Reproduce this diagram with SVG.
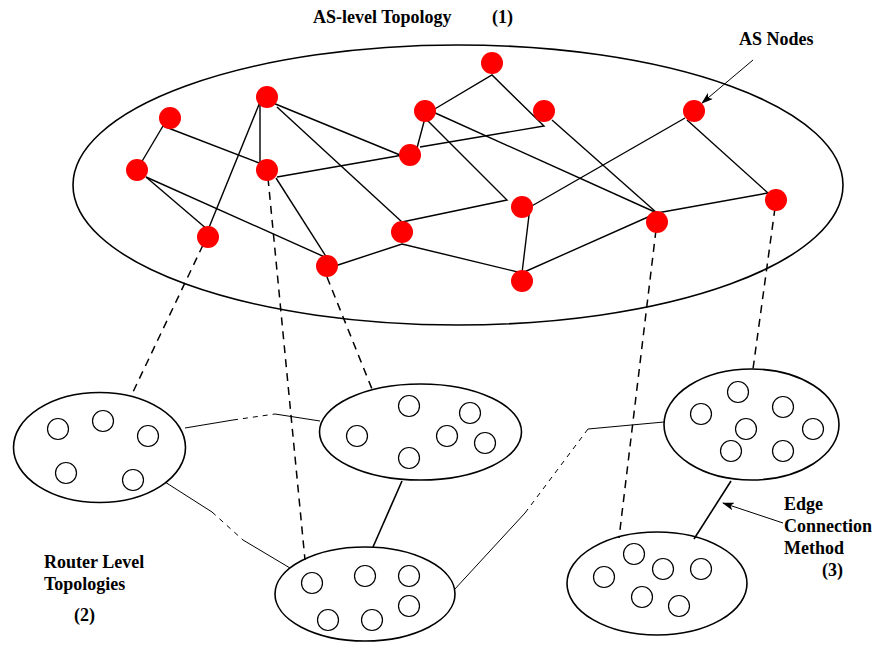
<svg xmlns="http://www.w3.org/2000/svg" width="874" height="647" viewBox="0 0 874 647">
<style>
.bg{fill:#fff}
.ell{fill:none;stroke:#000;stroke-width:1.6}
.as{fill:#f00;stroke:none}
.rt{fill:none;stroke:#000;stroke-width:1.2}
.e{fill:none;stroke:#000;stroke-width:1.4}
.map{fill:none;stroke:#000;stroke-width:1.5;stroke-dasharray:8 6}
.thin{fill:none;stroke:#000;stroke-width:1}
.td{fill:none;stroke:#000;stroke-width:1;stroke-dasharray:5 5}
.thick{fill:none;stroke:#000;stroke-width:1.6}
.lbl{font-family:"Liberation Serif","Times New Roman",serif;font-weight:bold;font-size:18px;fill:#000}
</style>
<defs>
<marker id="ah" markerWidth="12" markerHeight="8" refX="11" refY="4" orient="auto" markerUnits="userSpaceOnUse">
<path d="M0,0 L12,4 L0,8 L3,4 Z" fill="#000"/>
</marker>
</defs>
<rect class="bg" x="0" y="0" width="874" height="647"/>

<g id="as-topology">
<ellipse class="ell" cx="458" cy="185" rx="385" ry="140"/>
</g>

<g id="connectors">
<!-- AS edges -->
<line class="e" x1="163" y1="126" x2="141" y2="163"/>
<line class="e" x1="163" y1="126" x2="259" y2="163"/>
<line class="e" x1="260" y1="100" x2="260" y2="170"/>
<line class="e" x1="260" y1="102" x2="208" y2="230"/>
<line class="e" x1="273" y1="103" x2="400" y2="155"/>
<line class="e" x1="277" y1="107" x2="402" y2="222"/>
<line class="e" x1="146" y1="177" x2="208" y2="230"/>
<line class="e" x1="146" y1="177" x2="327" y2="258"/>
<line class="e" x1="276" y1="178" x2="327" y2="258"/>
<line class="e" x1="277" y1="177" x2="403" y2="155"/>
<line class="e" x1="417" y1="148" x2="425" y2="118"/>
<polyline class="e" points="420,147 544,126 492,75 433,110"/>
<line class="e" x1="433" y1="112" x2="657" y2="213"/>
<polyline class="e" points="425,118 507,200 402,222"/>
<line class="e" x1="552" y1="120" x2="657" y2="213"/>
<line class="e" x1="685" y1="118" x2="530" y2="207"/>
<line class="e" x1="687" y1="120" x2="768" y2="193"/>
<line class="e" x1="657" y1="213" x2="768" y2="193"/>
<polyline class="e" points="530,207 522,273 657,213"/>
<polyline class="e" points="335,266 402,244 522,273"/>

<!-- mapping (dashed) -->
<line class="map" x1="203" y1="245" x2="133" y2="392"/>
<line class="map" x1="268" y1="178" x2="305" y2="560"/>
<line class="map" x1="327" y1="277" x2="372" y2="389"/>
<line class="map" x1="656" y1="230" x2="619" y2="538"/>
<line class="map" x1="775" y1="208" x2="753" y2="369"/>

<!-- router-level links -->
<line class="thin" x1="185" y1="428" x2="233" y2="420"/>
<line class="td" x1="233" y1="420" x2="275" y2="414"/>
<line class="thin" x1="275" y1="414" x2="320" y2="421"/>

<line class="thin" x1="165" y1="482" x2="212" y2="512"/>
<line class="td" x1="212" y1="512" x2="243" y2="540"/>
<line class="thin" x1="243" y1="540" x2="290" y2="568"/>

<line class="thin" x1="454" y1="590" x2="525" y2="513"/>
<line class="td" x1="525" y1="513" x2="588" y2="429"/>
<line class="thin" x1="588" y1="429" x2="664" y2="422"/>

<line class="thick" x1="402" y1="481" x2="373" y2="547"/>
<line class="thick" x1="731" y1="481" x2="694" y2="539"/>

<!-- annotation arrows -->
<line class="thin" x1="753" y1="60" x2="702" y2="103" marker-end="url(#ah)"/>
<line class="thin" x1="783" y1="523" x2="723" y2="503" marker-end="url(#ah)"/>
</g>

<g id="as-nodes">
<circle class="as" cx="170" cy="118" r="11"/>
<circle class="as" cx="267" cy="97" r="11"/>
<circle class="as" cx="137" cy="170" r="11"/>
<circle class="as" cx="267" cy="170" r="11"/>
<circle class="as" cx="208" cy="237" r="11"/>
<circle class="as" cx="327" cy="266" r="11"/>
<circle class="as" cx="402" cy="232" r="11"/>
<circle class="as" cx="410" cy="155" r="11"/>
<circle class="as" cx="425" cy="111" r="11"/>
<circle class="as" cx="492" cy="63" r="11"/>
<circle class="as" cx="544" cy="111" r="11"/>
<circle class="as" cx="694" cy="111" r="11"/>
<circle class="as" cx="522" cy="207" r="11"/>
<circle class="as" cx="657" cy="222" r="11"/>
<circle class="as" cx="776" cy="200" r="11"/>
<circle class="as" cx="522" cy="281" r="11"/>
</g>

<g id="router-1">
<ellipse class="ell" cx="99.5" cy="447.5" rx="86" ry="55"/>
<circle class="rt" cx="58" cy="429" r="10.5"/>
<circle class="rt" cx="103" cy="421" r="10.5"/>
<circle class="rt" cx="148" cy="436" r="10.5"/>
<circle class="rt" cx="66" cy="473" r="10.5"/>
<circle class="rt" cx="133" cy="480" r="10.5"/>
</g>

<g id="router-2">
<ellipse class="ell" cx="420.5" cy="432" rx="101" ry="48"/>
<circle class="rt" cx="409" cy="406" r="10.5"/>
<circle class="rt" cx="470" cy="413" r="10.5"/>
<circle class="rt" cx="357" cy="436" r="10.5"/>
<circle class="rt" cx="447" cy="436" r="10.5"/>
<circle class="rt" cx="485" cy="443" r="10.5"/>
<circle class="rt" cx="409" cy="458" r="10.5"/>
</g>

<g id="router-3">
<ellipse class="ell" cx="365" cy="594" rx="90" ry="47"/>
<circle class="rt" cx="312" cy="583" r="10.5"/>
<circle class="rt" cx="365" cy="576" r="10.5"/>
<circle class="rt" cx="409" cy="576" r="10.5"/>
<circle class="rt" cx="409" cy="606" r="10.5"/>
<circle class="rt" cx="328" cy="620" r="10.5"/>
<circle class="rt" cx="372" cy="620" r="10.5"/>
</g>

<g id="router-4">
<ellipse class="ell" cx="751.5" cy="424.5" rx="87.5" ry="55.5"/>
<circle class="rt" cx="701" cy="414" r="10.5"/>
<circle class="rt" cx="738" cy="392" r="10.5"/>
<circle class="rt" cx="783" cy="407" r="10.5"/>
<circle class="rt" cx="746" cy="429" r="10.5"/>
<circle class="rt" cx="813" cy="429" r="10.5"/>
<circle class="rt" cx="731" cy="451" r="10.5"/>
<circle class="rt" cx="783" cy="451" r="10.5"/>
</g>

<g id="router-5">
<ellipse class="ell" cx="657" cy="583.5" rx="90" ry="51.5"/>
<circle class="rt" cx="634" cy="554" r="10.5"/>
<circle class="rt" cx="604" cy="577" r="10.5"/>
<circle class="rt" cx="663" cy="569" r="10.5"/>
<circle class="rt" cx="701" cy="569" r="10.5"/>
<circle class="rt" cx="642" cy="597" r="10.5"/>
<circle class="rt" cx="679" cy="606" r="10.5"/>
</g>

<g id="labels">
<text class="lbl" x="313" y="23">AS-level Topology</text>
<text class="lbl" x="492" y="23">(1)</text>
<text class="lbl" x="739" y="45">AS Nodes</text>
<text class="lbl" x="44" y="568">Router Level</text>
<text class="lbl" x="44" y="590">Topologies</text>
<text class="lbl" x="74" y="621">(2)</text>
<text class="lbl" x="784" y="510">Edge</text>
<text class="lbl" x="784" y="532">Connection</text>
<text class="lbl" x="784" y="554">Method</text>
<text class="lbl" x="822" y="576">(3)</text>
</g>
</svg>
